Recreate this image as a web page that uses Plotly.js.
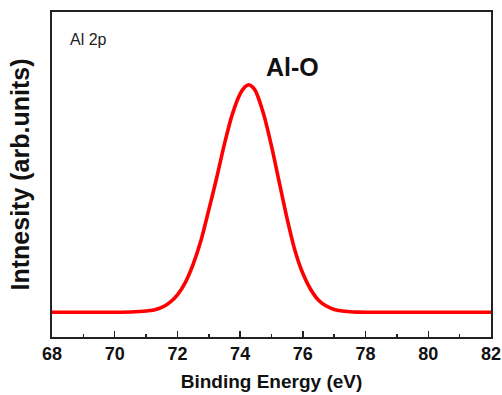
<!DOCTYPE html>
<html>
<head>
<meta charset="utf-8">
<script src="https://cdn.plot.ly/plotly-3.0.1.min.js"></script>
<style>html,body{margin:0;padding:0;background:#fff;}#chart{width:502px;height:395px;}</style>
</head>
<body>
<div id="chart"></div>
<script>
// Binding energy (eV) and intensity (arb. units, baseline 0, peak 100)
var bindingEnergy = [68, 69, 70, 70.5, 71, 71.25, 71.5, 71.75, 72, 72.25, 72.5, 72.75, 73, 73.25, 73.5, 73.75, 74, 74.15, 74.27, 74.4, 74.5, 74.75, 75, 75.25, 75.5, 75.75, 76, 76.25, 76.5, 76.75, 77, 77.25, 77.5, 77.75, 78, 79, 80, 81, 82];
var intensity     = [0, 0, 0, 0.1, 0.5, 1.0, 2.1, 4.2, 7.6, 13, 21, 31.5, 45, 59, 74, 87, 96, 99, 100, 99, 97, 87, 73, 57, 41, 27, 17, 10, 5.3, 2.7, 1.2, 0.5, 0.2, 0.05, 0, 0, 0, 0, 0];
var xTickVals = [68, 70, 72, 74, 76, 78, 80, 82];
var xTickText = ['68', '70', '72', '74', '76', '78', '80', '82'];

var trace = {
  x: bindingEnergy,
  y: intensity,
  type: 'scatter',
  mode: 'lines',
  line: {color: '#ff0000', width: 3.6, shape: 'spline', smoothing: 0.8},
  hoverinfo: 'skip'
};

var layout = {
  width: 502, height: 395,
  margin: {l: 52, r: 11, t: 12, b: 58},
  paper_bgcolor: '#ffffff', plot_bgcolor: '#ffffff',
  showlegend: false,
  font: {family: 'Liberation Sans, Arial, sans-serif', color: '#111'},
  xaxis: {
    range: [68, 82],
    tickmode: 'array', tickvals: xTickVals, ticktext: xTickText,
    ticks: 'inside', ticklen: 6, tickwidth: 1.5, tickcolor: '#222',
    minor: {dtick: 1, tick0: 68, ticks: 'inside', ticklen: 3.5, tickwidth: 1.5, tickcolor: '#222', showgrid: false},
    showline: true, linecolor: '#222', linewidth: 1.6, mirror: true,
    showgrid: false, zeroline: false,
    tickfont: {family: 'Liberation Sans, Arial, sans-serif', size: 18, color: '#111', weight: 'bold'},
    title: {text: '<b>Binding Energy (eV)</b>', font: {family: 'Liberation Sans, Arial, sans-serif', size: 19, color: '#111'}, standoff: 11},
    automargin: false
  },
  yaxis: {
    range: [-10.9, 132],
    showticklabels: false, ticks: '',
    showline: true, linecolor: '#222', linewidth: 1.6, mirror: true,
    showgrid: false, zeroline: false,
    title: {text: '<b>Intnesity (arb.units)</b>', font: {family: 'Liberation Sans, Arial, sans-serif', size: 25, color: '#111'}, standoff: 13},
    automargin: false
  },
  annotations: [
    {xref: 'paper', yref: 'paper', x: 0.548, y: 0.83, text: '<b>Al-O</b>', showarrow: false,
     font: {family: 'Liberation Sans, Arial, sans-serif', size: 25, color: '#111'}, xanchor: 'center', yanchor: 'middle'},
    {xref: 'paper', yref: 'paper', x: 0.036, y: 0.916, text: 'Al 2p', showarrow: false,
     font: {family: 'Liberation Sans, Arial, sans-serif', size: 16, color: '#222'}, xanchor: 'left', yanchor: 'middle'}
  ]
};

Plotly.newPlot('chart', [trace], layout, {staticPlot: true, displayModeBar: false});
</script>
</body>
</html>
